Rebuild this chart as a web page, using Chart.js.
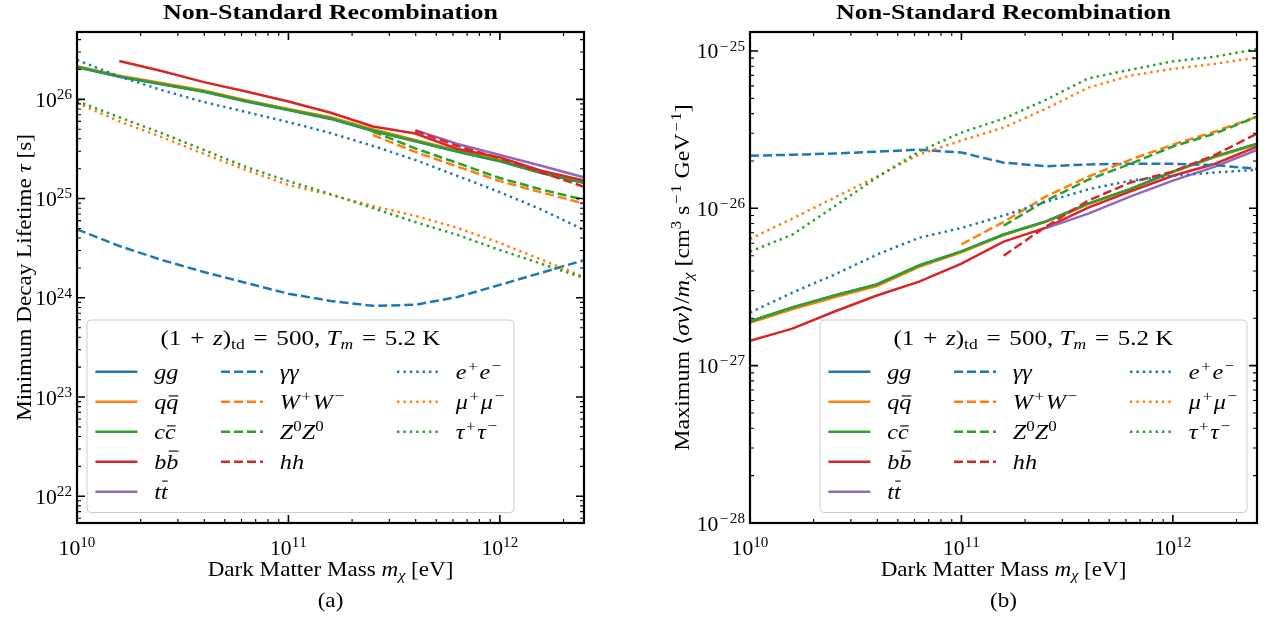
<!DOCTYPE html>
<html>
<head>
<meta charset="utf-8">
<script src="https://cdn.jsdelivr.net/npm/chart.js@4.4.1/dist/chart.umd.min.js"></script>
<style>
body { margin: 0; background: #fff; width: 1267px; height: 620px; overflow: hidden; position: relative; }
canvas { position: absolute; top: 0; }
#chartA { left: 0; }
#chartB { left: 633px; }
</style>
</head>
<body>
<canvas id="chartA" width="633" height="620"></canvas>
<canvas id="chartB" width="634" height="620"></canvas>
<script>
// dark matter masses [eV] at which the curves are sampled
var massGrid = [1e10, 1.585e10, 2.512e10, 3.981e10, 6.310e10, 1e11, 1.585e11, 2.512e11, 3.981e11, 6.310e11, 1e12, 1.585e12, 2.512e12];

// (a) minimum decay lifetime [s]
var tauGG  = [2.11e26, 1.69e26, 1.42e26, 1.19e26, 9.5e25, 7.8e25, 6.35e25, 4.8e25, 3.78e25, 2.96e25, 2.37e25, 1.8e25, 1.43e25];
var tauQQ  = [2.16e26, 1.73e26, 1.46e26, 1.23e26, 9.8e25, 8.0e25, 6.6e25, 5.0e25, 3.9e25, 3.05e25, 2.45e25, 1.86e25, 1.48e25];
var tauCC  = [2.13e26, 1.70e26, 1.43e26, 1.20e26, 9.6e25, 7.85e25, 6.4e25, 4.85e25, 3.8e25, 2.98e25, 2.39e25, 1.81e25, 1.44e25];
var tauBB  = [null, 2.43e26, 1.93e26, 1.49e26, 1.20e26, 9.5e25, 7.33e25, 5.32e25, 4.53e25, 3.16e25, 2.6e25, 1.9e25, 1.52e25];
var tauTT  = [null, null, null, null, null, null, null, null, 4.9e25, 3.55e25, 2.75e25, 2.13e25, 1.63e25];
var tauAA  = [4.9e24, 3.33e24, 2.41e24, 1.82e24, 1.41e24, 1.1e24, 9.3e23, 8.3e23, 8.5e23, 1.02e24, 1.35e24, 1.8e24, 2.4e24];
var tauWW  = [null, null, null, null, null, null, null, 4.37e25, 2.95e25, 2.1e25, 1.5e25, 1.15e25, 8.9e24];
var tauZZ  = [null, null, null, null, null, null, null, 4.74e25, 3.2e25, 2.28e25, 1.61e25, 1.23e25, 9.7e24];
var tauHH  = [null, null, null, null, null, null, null, null, 4.8e25, 3.39e25, 2.54e25, 1.83e25, 1.31e25];
var tauEE  = [2.49e26, 1.7e26, 1.24e26, 9.4e25, 7.45e25, 5.9e25, 4.57e25, 3.39e25, 2.45e25, 1.69e25, 1.16e25, 7.7e24, 4.8e24];
var tauMuMu = [9.2e25, 6.0e25, 4.17e25, 2.82e25, 1.94e25, 1.37e25, 1.09e25, 8.4e24, 6.7e24, 5.06e24, 3.57e24, 2.41e24, 1.62e24];
var tauTauTau = [9.6e25, 6.6e25, 4.57e25, 3.09e25, 2.08e25, 1.5e25, 1.11e25, 8.0e24, 5.8e24, 4.3e24, 3.03e24, 2.19e24, 1.58e24];

// (b) maximum <sigma v>/m [cm^3 s^-1 GeV^-1]
var svGG  = [1.91e-27, 2.34e-27, 2.79e-27, 3.28e-27, 4.33e-27, 5.32e-27, 6.82e-27, 8.26e-27, 1.07e-26, 1.33e-26, 1.71e-26, 2.14e-26, 2.58e-26];
var svQQ  = [1.87e-27, 2.28e-27, 2.72e-27, 3.2e-27, 4.25e-27, 5.25e-27, 6.75e-27, 8.2e-27, 1.06e-26, 1.32e-26, 1.7e-26, 2.12e-26, 2.55e-26];
var svCC  = [1.91e-27, 2.34e-27, 2.79e-27, 3.28e-27, 4.33e-27, 5.32e-27, 6.82e-27, 8.26e-27, 1.07e-26, 1.33e-26, 1.71e-26, 2.14e-26, 2.58e-26];
var svBB  = [1.44e-27, 1.72e-27, 2.21e-27, 2.79e-27, 3.42e-27, 4.45e-27, 6.14e-27, 7.54e-27, 1.01e-26, 1.28e-26, 1.61e-26, 1.92e-26, 2.47e-26];
var svTT  = [null, null, null, null, null, null, null, 7.48e-27, 9.25e-27, 1.19e-26, 1.5e-26, 1.84e-26, 2.36e-26];
var svAA  = [2.16e-26, 2.19e-26, 2.23e-26, 2.29e-26, 2.36e-26, 2.26e-26, 1.95e-26, 1.85e-26, 1.9e-26, 1.92e-26, 1.92e-26, 1.88e-26, 1.78e-26];
var svWW  = [null, null, null, null, null, 5.9e-27, 8.2e-27, 1.19e-26, 1.59e-26, 2.04e-26, 2.54e-26, 3.08e-26, 3.83e-26];
var svZZ  = [null, null, null, null, null, null, 7.76e-27, 1.12e-26, 1.52e-26, 1.92e-26, 2.47e-26, 2.99e-26, 3.83e-26];
var svHH  = [null, null, null, null, null, null, 5.0e-27, 7.66e-27, 1.12e-26, 1.46e-26, 1.71e-26, 2.19e-26, 2.99e-26];
var svEE  = [2.17e-27, 2.91e-27, 3.79e-27, 5.08e-27, 6.5e-27, 7.5e-27, 9.0e-27, 1.1e-26, 1.32e-26, 1.5e-26, 1.61e-26, 1.69e-26, 1.76e-26];
var svMuMu = [6.4e-27, 8.6e-27, 1.17e-26, 1.59e-26, 2.2e-26, 2.7e-26, 3.26e-26, 4.3e-26, 5.85e-26, 6.98e-26, 7.7e-26, 8.3e-26, 9.1e-26];
var svTauTau = [5.3e-27, 6.8e-27, 1.03e-26, 1.57e-26, 2.3e-26, 3.03e-26, 3.72e-26, 4.9e-26, 6.7e-26, 7.6e-26, 8.6e-26, 9.2e-26, 1.03e-25];

// channels, in plotting order
var channelNames = ['$gg$', '$q\\bar{q}$', '$c\\bar{c}$', '$b\\bar{b}$', '$t\\bar{t}$',
	'$γγ$', '$W^+W^−$', '$Z^0Z^0$', '$hh$',
	'$e^+e^−$', '$μ^+μ^−$', '$τ^+τ^−$'];
var channelColors = ['#1f77b4', '#ff7f0e', '#2ca02c', '#d62728', '#9467bd',
	'#1f77b4', '#ff7f0e', '#2ca02c', '#d62728',
	'#1f77b4', '#ff7f0e', '#2ca02c'];
var channelStyles = ['solid', 'solid', 'solid', 'solid', 'solid',
	'dashed', 'dashed', 'dashed', 'dashed',
	'dotted', 'dotted', 'dotted'];
var legendColumns = [[0, 1, 2, 3, 4], [5, 6, 7, 8], [9, 10, 11]];

var xTicks = [1e10, 1e11, 1e12];
var xTickLabels = ['$10^{10}$', '$10^{11}$', '$10^{12}$'];
var yTicksA = [1e22, 1e23, 1e24, 1e25, 1e26];
var yTickLabelsA = ['$10^{22}$', '$10^{23}$', '$10^{24}$', '$10^{25}$', '$10^{26}$'];
var yTicksB = [1e-28, 1e-27, 1e-26, 1e-25];
var yTickLabelsB = ['$10^{−28}$', '$10^{−27}$', '$10^{−26}$', '$10^{−25}$'];

var fontFam = '"Liberation Serif", "DejaVu Serif", serif';
var textStretch = 1.1;

var dashFor = { solid: [], dashed: [9, 4], dotted: [2.4, 4] };

// tiny latex-ish text: $..$ math, ^{} _{} \bar{} \rm{}
function richRuns(src, size, bold) {
	let out = [];
	(function walk(s, st) {
		let i = 0;
		function group() {
			if (s[i] === '{') {
				let d = 1, j = i + 1;
				while (d > 0) { if (s[j] === '{') d++; else if (s[j] === '}') d--; j++; }
				let g = s.slice(i + 1, j - 1);
				i = j;
				return g;
			}
			return s[i++];
		}
		while (i < s.length) {
			let c = s[i++];
			if (c === '$') { st = Object.assign({}, st, {math: !st.math}); continue; }
			if (c === '^' || c === '_') {
				let g = group();
				walk(g, Object.assign({}, st, {size: st.size * 0.7, shift: st.shift + (c === '^' ? -0.37 : 0.2) * st.size}));
				continue;
			}
			if (c === '\\') {
				let name = '';
				while (/[a-z]/.test(s[i])) name += s[i++];
				let g = group();
				if (name === 'bar') walk(g, Object.assign({}, st, {bar: true}));
				else walk(g, Object.assign({}, st, {roman: true}));
				continue;
			}
			let italic = st.math && !st.roman && /[A-Za-zα-ωΑ-Ω]/.test(c);
			out.push({ch: c, size: st.size, shift: st.shift, italic: italic, bar: !!st.bar, bold: st.bold, math: st.math});
		}
	})(src, {math: false, size: size, shift: 0, bold: !!bold});
	return out;
}

function fontOf(r) {
	return (r.italic ? 'italic ' : '') + (r.bold ? 'bold ' : '') + r.size + 'px ' + fontFam;
}

function drawRich(ctx, src, x, y, o) {
	let runs = richRuns(src, o.size, o.bold);
	let w = 0;
	runs.forEach(function(r) {
		ctx.font = fontOf(r);
		r.w = ctx.measureText(r.ch).width;
		r.pad = 0;
		// math operators are wider in the TeX fonts
		if (r.math && '+−='.indexOf(r.ch) >= 0) {
			r.pad = Math.max(0, 0.76 * r.size - r.w) / 2;
			r.w += 2 * r.pad;
		}
		w += r.w;
	});
	ctx.save();
	ctx.translate(x, y);
	if (o.rotate) ctx.rotate(o.rotate);
	ctx.scale(o.stretch || textStretch, 1);
	let cx = o.align === 'center' ? -w / 2 : (o.align === 'right' ? -w : 0);
	ctx.fillStyle = '#000';
	ctx.textAlign = 'left';
	ctx.textBaseline = 'alphabetic';
	runs.forEach(function(r) {
		ctx.font = fontOf(r);
		ctx.fillText(r.ch, cx + r.pad, r.shift);
		if (r.bar) {
			let h = /[bdfhklt]/.test(r.ch) ? 0.78 : 0.56;
			ctx.fillRect(cx + r.w * 0.2, r.shift - r.size * h - 1.5, r.w * 0.8, 1.1);
		}
		cx += r.w;
	});
	ctx.restore();
}

function minorTicks(min, max) {
	let ticks = [];
	for (let e = Math.floor(Math.log10(min)); e <= Math.ceil(Math.log10(max)); e++) {
		for (let k = 2; k <= 9; k++) {
			let v = k * Math.pow(10, e);
			if (v > min && v < max) ticks.push(v);
		}
	}
	return ticks;
}

var decorPlugin = {
	id: 'panelDecor',
	afterDraw: function(chart, args, opts) {
		let ctx = chart.ctx;
		let a = chart.chartArea;
		let xs = chart.scales.x, ys = chart.scales.y;

		// legend box
		let bx = opts.legendLeft, by = 320, bw = 427, bh = 192.5;
		ctx.save();
		ctx.beginPath();
		ctx.roundRect(bx, by, bw, bh, 4);
		ctx.fillStyle = 'rgba(255,255,255,0.8)';
		ctx.fill();
		ctx.strokeStyle = '#cccccc';
		ctx.lineWidth = 1;
		ctx.stroke();
		ctx.restore();
		drawRich(ctx, '$(1 + z)_{\\rm{td}} = 500$, $T_m = 5.2$ K', bx + bw / 2, 345, {size: 22, align: 'center', stretch: 1.14});
		let colX = [8.4, 134, 310];
		legendColumns.forEach(function(col, c) {
			col.forEach(function(idx, row) {
				let ly = by + 51.7 + row * 30;
				let lx = bx + colX[c];
				ctx.save();
				ctx.strokeStyle = channelColors[idx];
				ctx.lineWidth = 2.6;
				ctx.setLineDash(dashFor[channelStyles[idx]]);
				ctx.beginPath();
				ctx.moveTo(lx, ly);
				ctx.lineTo(lx + 42, ly);
				ctx.stroke();
				ctx.restore();
				drawRich(ctx, channelNames[idx], lx + 42 + 16.8, ly + 7.5, {size: 22, align: 'left'});
			});
		});

		// frame and inward ticks on all four sides
		ctx.save();
		ctx.strokeStyle = '#000';
		ctx.lineWidth = 1.6;
		xTicks.forEach(function(v) {
			let px = xs.getPixelForValue(v);
			ctx.beginPath();
			ctx.moveTo(px, a.bottom); ctx.lineTo(px, a.bottom - 8);
			ctx.moveTo(px, a.top); ctx.lineTo(px, a.top + 8);
			ctx.stroke();
		});
		opts.yTicks.forEach(function(v) {
			let py = ys.getPixelForValue(v);
			ctx.beginPath();
			ctx.moveTo(a.left, py); ctx.lineTo(a.left + 8, py);
			ctx.moveTo(a.right, py); ctx.lineTo(a.right - 8, py);
			ctx.stroke();
		});
		ctx.lineWidth = 1.1;
		minorTicks(xs.min, xs.max).forEach(function(v) {
			let px = xs.getPixelForValue(v);
			ctx.beginPath();
			ctx.moveTo(px, a.bottom); ctx.lineTo(px, a.bottom - 4);
			ctx.moveTo(px, a.top); ctx.lineTo(px, a.top + 4);
			ctx.stroke();
		});
		minorTicks(ys.min, ys.max).forEach(function(v) {
			let py = ys.getPixelForValue(v);
			ctx.beginPath();
			ctx.moveTo(a.left, py); ctx.lineTo(a.left + 4, py);
			ctx.moveTo(a.right, py); ctx.lineTo(a.right - 4, py);
			ctx.stroke();
		});
		ctx.lineWidth = 2.2;
		ctx.strokeRect(a.left, a.top, a.right - a.left, a.bottom - a.top);
		ctx.restore();

		// tick labels
		xTicks.forEach(function(v, i) {
			drawRich(ctx, xTickLabels[i], xs.getPixelForValue(v), 555, {size: 21, align: 'center', stretch: 1.03});
		});
		opts.yTicks.forEach(function(v, i) {
			drawRich(ctx, opts.yTickLabels[i], a.left - 5, ys.getPixelForValue(v) + 7.5, {size: 21, align: 'right', stretch: 1.03});
		});

		// titles
		let cx = (a.left + a.right) / 2;
		drawRich(ctx, 'Non-Standard Recombination', cx, 18.5, {size: 21, bold: true, align: 'center', stretch: 1.24});
		drawRich(ctx, 'Dark Matter Mass $m_χ$ [eV]', cx, 576, {size: 21, align: 'center'});
		drawRich(ctx, opts.tag, cx, 607, {size: 21, align: 'center'});
		drawRich(ctx, opts.yTitle, opts.yTitleX, (a.top + a.bottom) / 2, {size: 21, align: 'center', rotate: -Math.PI / 2, stretch: opts.yTitleStretch});
	}
};

function makeDatasets(seriesList) {
	let datasets = [];
	for (let i = 0; i < seriesList.length; i++) {
		let pts = [];
		for (let j = 0; j < massGrid.length; j++) {
			if (seriesList[i][j] !== null) pts.push({x: massGrid[j], y: seriesList[i][j]});
		}
		datasets.push({
			label: channelNames[i],
			data: pts,
			borderColor: channelColors[i],
			borderWidth: 2.5,
			borderDash: dashFor[channelStyles[i]],
			pointRadius: 0,
			fill: false,
			tension: 0,
			order: seriesList.length - i
		});
	}
	return datasets;
}

function makePanel(canvasId, seriesList, yMin, yMax, padding, decor) {
	return new Chart(document.getElementById(canvasId), {
		type: 'line',
		data: {datasets: makeDatasets(seriesList)},
		options: {
			responsive: false,
			animation: false,
			devicePixelRatio: 1,
			layout: {padding: padding},
			scales: {
				x: {type: 'logarithmic', min: 1e10, max: 2.5e12, display: false},
				y: {type: 'logarithmic', min: yMin, max: yMax, display: false}
			},
			plugins: {
				legend: {display: false},
				tooltip: {enabled: false},
				panelDecor: decor
			}
		},
		plugins: [decorPlugin]
	});
}

var chartA = makePanel('chartA',
	[tauGG, tauQQ, tauCC, tauBB, tauTT, tauAA, tauWW, tauZZ, tauHH, tauEE, tauMuMu, tauTauTau],
	5.38e21, 4.77e26,
	{left: 77, right: 49, top: 32, bottom: 97},
	{yTicks: yTicksA, yTickLabels: yTickLabelsA, yTitle: 'Minimum Decay Lifetime $τ$ [s]', yTitleX: 31, yTitleStretch: 1.1, legendLeft: 87, tag: '(a)'});

var chartB = makePanel('chartB',
	[svGG, svQQ, svCC, svBB, svTT, svAA, svWW, svZZ, svHH, svEE, svMuMu, svTauTau],
	1e-28, 1.32e-25,
	{left: 117, right: 10, top: 32, bottom: 97},
	{yTicks: yTicksB, yTickLabels: yTickLabelsB, yTitle: 'Maximum $⟨σv⟩/m_χ$ [cm$^3$ s$^{−1}$ GeV$^{−1}$]', yTitleX: 56, yTitleStretch: 1.14, legendLeft: 187, tag: '(b)'});
</script>
</body>
</html>
